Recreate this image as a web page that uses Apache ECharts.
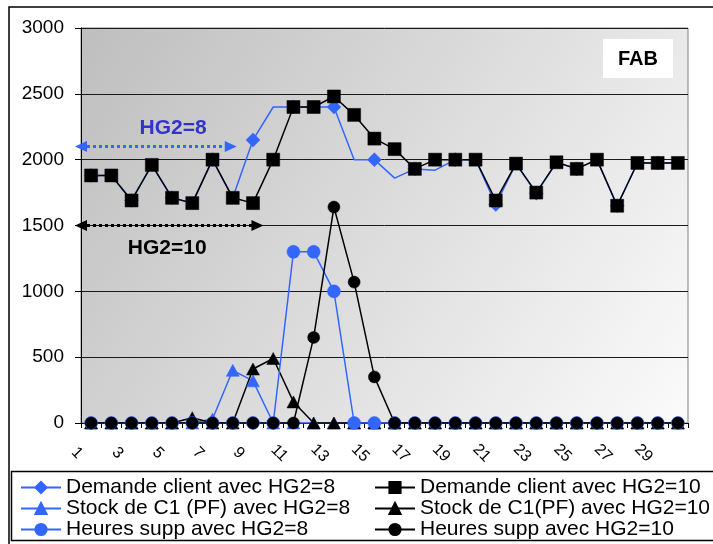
<!DOCTYPE html>
<html><head><meta charset="utf-8">
<script src="https://cdn.jsdelivr.net/npm/echarts@6/dist/echarts.min.js"></script>
<style>html,body{margin:0;padding:0;background:#fff}#c{width:713px;height:544px}</style>
</head><body><div id="c"></div>
<script>
// ---- data ----
const periods = ['1','2','3','4','5','6','7','8','9','10','11','12','13','14','15','16','17','18','19','20','21','22','23','24','25','26','27','28','29','30'];
const demandeHG8  = [1880,1880,1690,1960,1710,1670,2000,1710,2150,2400,2400,2400,2400,2000,2000,1860,1930,1920,2000,2000,1660,1970,1745,1980,1930,2000,1650,1975,1975,1975];
const demandeHG10 = [1880,1880,1690,1960,1710,1670,2000,1710,1670,2000,2400,2400,2480,2340,2160,2080,1930,2000,2000,2000,1690,1970,1750,1980,1930,2000,1650,1975,1975,1975];
const stockHG8    = [0,0,0,0,0,0,30,400,320,0,0,0,0,0,0,0,0,0,0,0,0,0,0,0,0,0,0,0,0,0];
const stockHG10   = [0,0,0,0,0,40,0,0,410,490,160,0,0,0,0,0,0,0,0,0,0,0,0,0,0,0,0,0,0,0];
const heuresHG8   = [0,0,0,0,0,0,0,0,0,0,1300,1300,1000,0,0,0,0,0,0,0,0,0,0,0,0,0,0,0,0,0];
const heuresHG10  = [0,0,0,0,0,0,0,0,0,0,0,650,1640,1070,350,0,0,0,0,0,0,0,0,0,0,0,0,0,0,0];
const seriesNames = ['Demande client avec HG2=8','Demande client avec HG2=10','Stock de C1 (PF) avec HG2=8','Stock de C1(PF) avec HG2=10','Heures supp avec HG2=8','Heures supp avec HG2=10'];
const yMin = 0, yMax = 3000, yStep = 500;
// annotations (x in period units, y in chart units)
const arrowHG8  = [0.5, 7.9, 2100];
const arrowHG10 = [0.5, 9.22, 1500];
const textHG8  = [5.05, 2240, 'HG2=8'];
const textHG10 = [4.76, 1325, 'HG2=10'];
const boxLabel = 'FAB';

const BLUE = '#3366FF', BLACK = '#000000';
const FONT = 'Liberation Sans, Arial, sans-serif';

function mk(name, data, color, symbol, size) {
  return {
    name, type: 'line', data, symbol, symbolSize: size,
    lineStyle: {color, width: 1.5},
    itemStyle: {color, borderColor: color, borderWidth: 0.5},
    animation: false
  };
}

const chart = echarts.init(document.getElementById('c'), null, {renderer: 'canvas'});
chart.setOption({
  animation: false,
  backgroundColor: '#ffffff',
  title: {
    text: boxLabel, right: 713 - 673, top: 39,
    backgroundColor: '#ffffff', padding: [10, 15, 9, 15],
    textStyle: {fontFamily: FONT, fontSize: 20, fontWeight: 'bold', color: '#000', lineHeight: 20}
  },
  grid: {
    left: 81, right: 25, top: 28, bottom: 121, show: true,
    backgroundColor: {type: 'linear', x: 0, y: 0, x2: 1, y2: 1,
      colorStops: [{offset: 0, color: '#bebebe'}, {offset: 1, color: '#fbfbfb'}]},
    borderColor: '#808080', borderWidth: 1
  },
  legend: [
    {data: seriesNames.filter((n, i) => i % 2 === 0), orient: 'vertical', left: 20, top: 477,
     padding: 0, itemGap: 0, itemWidth: 40, itemHeight: 14,
     textStyle: {fontFamily: FONT, fontSize: 21, color: '#000', lineHeight: 19}},
    {data: seriesNames.filter((n, i) => i % 2 === 1), orient: 'vertical', left: 374, top: 477,
     padding: 0, itemGap: 0, itemWidth: 40, itemHeight: 14,
     textStyle: {fontFamily: FONT, fontSize: 21, color: '#000', lineHeight: 19}}
  ],
  xAxis: [
    {type: 'category', data: periods, boundaryGap: true,
     axisLine: {lineStyle: {color: '#000', width: 1}},
     axisTick: {show: true, interval: 0, length: 5, lineStyle: {color: '#000'}},
     axisLabel: {interval: 1, rotate: -45, margin: 16, align: 'center', verticalAlign: 'top',
       padding: [12, 0, 0, 0],
       fontFamily: FONT, fontSize: 16, color: '#000'},
     splitLine: {show: false}},
    {type: 'value', min: 0.5, max: 30.5, show: false}
  ],
  yAxis: {
    type: 'value', min: yMin, max: yMax, interval: yStep,
    axisLine: {show: true, lineStyle: {color: '#000', width: 1}},
    axisTick: {show: true, length: 6, lineStyle: {color: '#000'}},
    axisLabel: {margin: 17, fontFamily: FONT, fontSize: 19, color: '#000', formatter: v => String(v)},
    splitLine: {show: true, lineStyle: {color: '#1a1a1a', width: 1}}
  },
  series: [
    mk(seriesNames[0], demandeHG8, BLUE, 'diamond', 14),
    mk(seriesNames[1], demandeHG10, BLACK, 'rect', 13),
    mk(seriesNames[2], stockHG8, BLUE, 'triangle', [13, 12]),
    mk(seriesNames[3], stockHG10, BLACK, 'triangle', [13, 12]),
    mk(seriesNames[4], heuresHG8, BLUE, 'circle', 13),
    mk(seriesNames[5], heuresHG10, BLACK, 'circle', 12),
    {
      name: 'annot', type: 'line', xAxisIndex: 1, data: [], silent: true, animation: false,
      markLine: {
        silent: true, animation: false,
        symbol: ['triangle', 'triangle'], symbolSize: [11, 12],
        label: {show: false},
        emphasis: {disabled: true},
        data: [
          [{coord: [arrowHG8[0], arrowHG8[2]], lineStyle: {color: BLUE, type: 'dotted', width: 3}, itemStyle: {color: BLUE}},
           {coord: [arrowHG8[1], arrowHG8[2]]}],
          [{coord: [arrowHG10[0], arrowHG10[2]], lineStyle: {color: BLACK, type: 'dotted', width: 3}, itemStyle: {color: BLACK}},
           {coord: [arrowHG10[1], arrowHG10[2]]}]
        ]
      },
      markPoint: {
        silent: true, animation: false, symbol: 'circle', symbolSize: 0,
        label: {show: true, position: 'inside', formatter: '{b}', fontFamily: FONT, fontSize: 21, fontWeight: 'bold'},
        data: [
          {name: textHG8[2], coord: [textHG8[0], textHG8[1]], label: {color: '#3333CC'}},
          {name: textHG10[2], coord: [textHG10[0], textHG10[1]], label: {color: '#000'}}
        ]
      }
    }
  ],
  graphic: [
    {type: 'rect', shape: {x: 9, y: 7, width: 740, height: 560}, style: {fill: 'none', stroke: '#000', lineWidth: 1.5}, silent: true, z: -1},
    {type: 'rect', shape: {x: 11.5, y: 471.5, width: 740, height: 69}, style: {fill: 'none', stroke: '#000', lineWidth: 1.5}, silent: true, z: -1}
  ]
});
</script></body></html>
